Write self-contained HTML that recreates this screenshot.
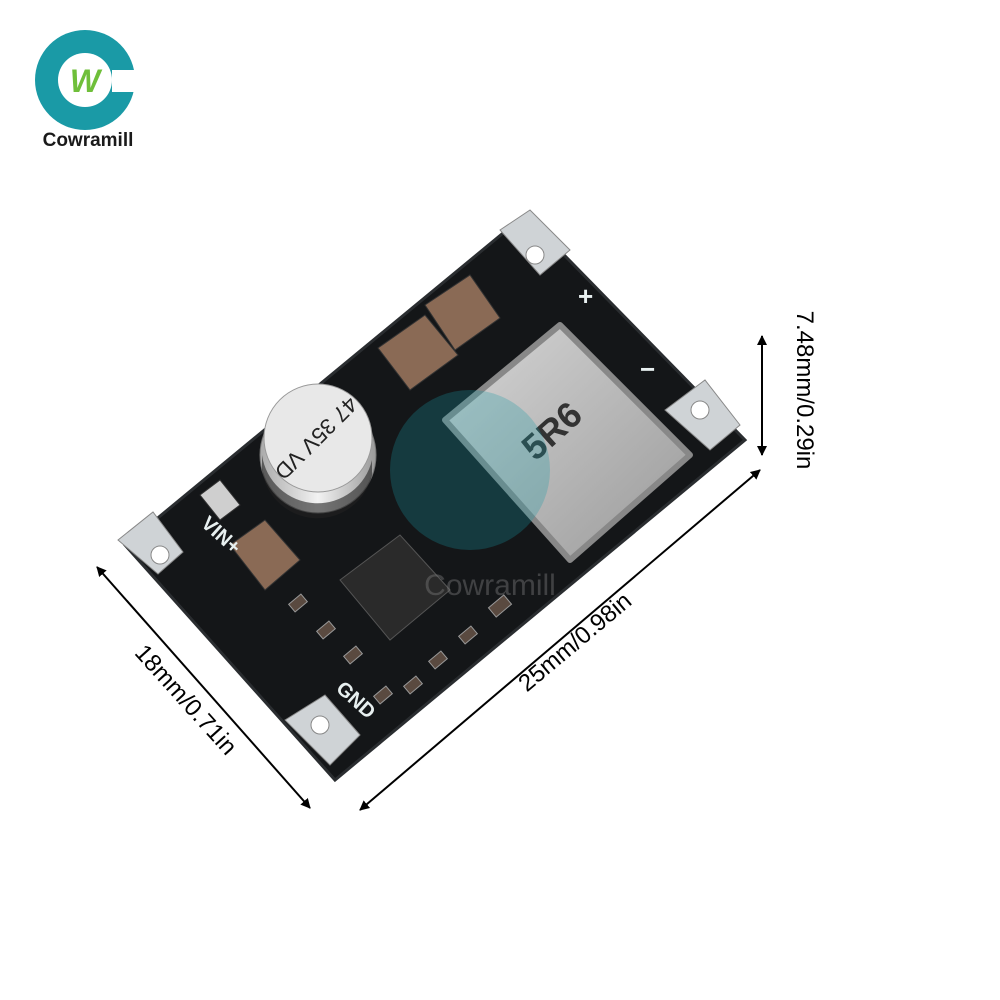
<!DOCTYPE html>
<html><head><meta charset="utf-8"><style>
html,body{margin:0;padding:0;background:#fff;}
svg{display:block}
text{font-family:"Liberation Sans",sans-serif}
</style></head><body>
<svg width="1000" height="1000" viewBox="0 0 1000 1000" xmlns="http://www.w3.org/2000/svg">
<defs>
<marker id="ah" markerWidth="10" markerHeight="10" refX="9" refY="5" orient="auto-start-reverse" markerUnits="userSpaceOnUse">
<path d="M0,0 L10,5 L0,10 Z" fill="#000"/></marker>
<linearGradient id="ind" x1="0" y1="0" x2="1" y2="1"><stop offset="0" stop-color="#d6d6d6"/><stop offset="1" stop-color="#9a9a9a"/></linearGradient>
<linearGradient id="cap" x1="0" y1="0" x2="1" y2="0"><stop offset="0" stop-color="#aaa"/><stop offset="0.5" stop-color="#f2f2f2"/><stop offset="1" stop-color="#9a9a9a"/></linearGradient>
</defs>
<!-- logo -->
<circle cx="85" cy="80" r="50" fill="#1a9aa6"/>
<circle cx="85" cy="80" r="27" fill="#fff"/>
<rect x="112" y="70" width="30" height="22" fill="#fff"/>
<text x="85" y="92" font-size="32" font-weight="bold" fill="#6fbf3a" text-anchor="middle" font-style="italic">W</text>
<text x="88" y="146" font-size="19" font-weight="bold" fill="#1a1a1a" text-anchor="middle">Cowramill</text>
<!-- PCB -->
<polygon points="125,545 525,215 745,440 335,780" fill="#141618" stroke="#2a2d30" stroke-width="3"/>
<g fill="#cfd3d6" stroke="#888" stroke-width="1">
<path d="M118,540 l35,-28 l30,40 l-25,22 z"/><circle cx="160" cy="555" r="9" fill="#fff"/>
<path d="M500,230 l30,-20 l40,40 l-30,25 z"/><circle cx="535" cy="255" r="9" fill="#fff"/>
<path d="M665,410 l40,-30 l35,45 l-30,25 z"/><circle cx="700" cy="410" r="9" fill="#fff"/>
<path d="M285,720 l40,-25 l35,40 l-30,30 z"/><circle cx="320" cy="725" r="9" fill="#fff"/>
</g>
<g stroke="#333">
<polygon points="378,348 425,315 458,355 410,390" fill="#8a6a55"/>
<polygon points="425,305 470,275 500,318 455,350" fill="#8a6a55"/>
<polygon points="230,545 265,520 300,560 265,590" fill="#8a6a55"/>
<polygon points="200,495 220,480 240,505 220,520" fill="#cfcfcf"/>
</g>
<!-- inductor -->
<polygon points="445,420 560,325 690,455 570,560" fill="url(#ind)" stroke="#888" stroke-width="6" stroke-linejoin="round"/>
<text x="560" y="440" font-size="36" fill="#333" text-anchor="middle" transform="rotate(-42 560 440)" font-weight="bold">5R6</text>
<!-- capacitor -->
<ellipse cx="318" cy="455" rx="58" ry="58" fill="url(#cap)" stroke="#777"/>
<path d="M262,470 A56,56 0 0 0 372,475 L372,460 A56,56 0 0 1 262,455 Z" fill="#222" opacity="0.6"/>
<circle cx="318" cy="438" r="54" fill="#e8e8e8" stroke="#999"/>
<text x="318" y="450" font-size="22" fill="#222" text-anchor="middle" transform="rotate(135 318 440)">47 35V VD</text>
<polygon points="340,580 400,535 450,590 390,640" fill="#2a2a2a" stroke="#555"/>
<g fill="#5a4a40" stroke="#999">
<rect x="290" y="598" width="16" height="10" transform="rotate(-40 298 603)"/>
<rect x="318" y="625" width="16" height="10" transform="rotate(-40 326 630)"/>
<rect x="345" y="650" width="16" height="10" transform="rotate(-40 353 655)"/>
<rect x="375" y="690" width="16" height="10" transform="rotate(-40 383 695)"/>
<rect x="405" y="680" width="16" height="10" transform="rotate(-40 413 685)"/>
<rect x="430" y="655" width="16" height="10" transform="rotate(-40 438 660)"/>
<rect x="460" y="630" width="16" height="10" transform="rotate(-40 468 635)"/>
<rect x="490" y="600" width="20" height="12" transform="rotate(-40 500 606)"/>
</g>
<g fill="#e8f0f0" font-weight="bold">
<text x="200" y="525" font-size="20" transform="rotate(42 200 525)">VIN+</text>
<text x="335" y="690" font-size="20" transform="rotate(42 335 690)">GND</text>
<text x="578" y="305" font-size="26">+</text>
<text x="640" y="378" font-size="26">−</text>
</g>
<!-- watermark -->
<circle cx="470" cy="470" r="80" fill="#1a9aa6" opacity="0.28"/>
<text x="490" y="595" font-size="30" fill="#777" opacity="0.45" text-anchor="middle">Cowramill</text>
<!-- dims -->
<line x1="97" y1="567" x2="310" y2="808" stroke="#000" stroke-width="2" marker-start="url(#ah)" marker-end="url(#ah)"/>
<text x="180" y="705" font-size="24" fill="#000" text-anchor="middle" transform="rotate(48 180 705)">18mm/0.71in</text>
<line x1="360" y1="810" x2="760" y2="470" stroke="#000" stroke-width="2" marker-start="url(#ah)" marker-end="url(#ah)"/>
<text x="580" y="648" font-size="24" fill="#000" text-anchor="middle" transform="rotate(-40 580 648)">25mm/0.98in</text>
<line x1="762" y1="336" x2="762" y2="455" stroke="#000" stroke-width="2" marker-start="url(#ah)" marker-end="url(#ah)"/>
<text x="797" y="390" font-size="24" fill="#000" text-anchor="middle" transform="rotate(90 797 390)">7.48mm/0.29in</text>
</svg>
</body></html>
